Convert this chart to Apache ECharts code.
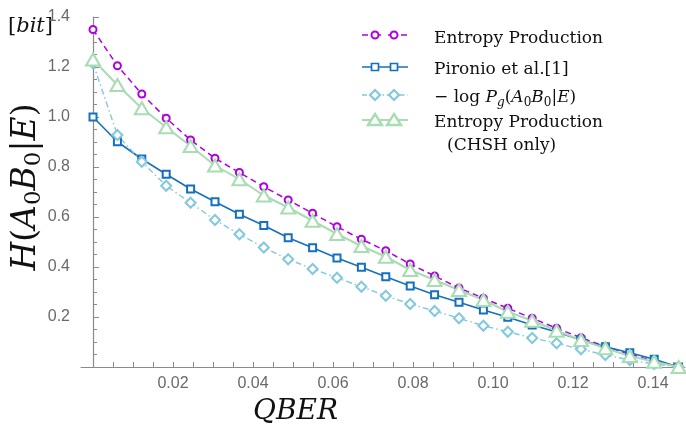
<!DOCTYPE html>
<html><head><meta charset="utf-8">
<script src="https://cdn.jsdelivr.net/npm/echarts@6/dist/echarts.min.js"></script>
<style>html,body{margin:0;padding:0;background:#fff}#c{width:686px;height:426px}</style>
</head><body><div id="c"></div>
<script>
var qber = [0, 0.0061, 0.0122, 0.0183, 0.0244, 0.0305, 0.0366, 0.0427, 0.0488, 0.0549, 0.0610, 0.0671, 0.0732, 0.0793, 0.0854, 0.0915, 0.0976, 0.1037, 0.1098, 0.1159, 0.1220, 0.1281, 0.1342, 0.1403, 0.1464];
var entropyProd = [1.35, 1.205, 1.092, 0.995, 0.908, 0.835, 0.778, 0.721, 0.668, 0.615, 0.561, 0.511, 0.465, 0.412, 0.364, 0.316, 0.275, 0.235, 0.195, 0.155, 0.117, 0.082, 0.051, 0.024, 0.0];
var pironio = [1.0, 0.901, 0.832, 0.771, 0.712, 0.661, 0.611, 0.566, 0.517, 0.477, 0.436, 0.399, 0.361, 0.324, 0.289, 0.259, 0.228, 0.199, 0.168, 0.140, 0.108, 0.081, 0.057, 0.031, 0.0];
var guessing = [1.215, 0.928, 0.821, 0.725, 0.657, 0.588, 0.531, 0.478, 0.431, 0.392, 0.357, 0.321, 0.285, 0.252, 0.224, 0.195, 0.165, 0.141, 0.116, 0.095, 0.071, 0.048, 0.028, 0.012, 0.0];
var chshOnly = [1.23, 1.128, 1.035, 0.959, 0.884, 0.806, 0.751, 0.686, 0.638, 0.585, 0.532, 0.484, 0.441, 0.388, 0.348, 0.308, 0.268, 0.221, 0.185, 0.145, 0.108, 0.075, 0.044, 0.021, 0.0];
var xLabelValues = [0.02, 0.04, 0.06, 0.08, 0.10, 0.12, 0.14];
var xTickValues = [0.005,0.01,0.015,0.02,0.025,0.03,0.035,0.04,0.045,0.05,0.055,0.06,0.065,0.07,0.075,0.08,0.085,0.09,0.095,0.1,0.105,0.11,0.115,0.12,0.125,0.13,0.135,0.14,0.145];
var seriesNames = ['Entropy Production', 'Pironio et al.[1]', '\u2212log Pg(A0B0|E)', 'Entropy Production (CHSH only)'];

function pairs(ys){ return ys.map(function(y,i){ return [qber[i], y]; }); }

var C_PURPLE = '#b000e0', C_BLUE = '#1570bd', C_LBLUE = '#83c8dc', C_GREEN = '#a8dcb2';
var SERIF = '"DejaVu Serif", serif';
var richMath = {
  i: {fontStyle:'italic', fontFamily: SERIF, fontSize:17, verticalAlign:'middle', lineHeight:22},
  n: {fontFamily: SERIF, fontSize:17, verticalAlign:'middle', lineHeight:22},
  s: {fontFamily: SERIF, fontSize:12, verticalAlign:'bottom', lineHeight:14},
  si: {fontFamily: SERIF, fontStyle:'italic', fontSize:12, verticalAlign:'bottom', lineHeight:14}
};
var legendText = {};
legendText[seriesNames[0]] = '{n|Entropy Production}';
legendText[seriesNames[1]] = '{n|Pironio et al.[1]}';
legendText[seriesNames[2]] = '{n|\u2212 log }{i|P}{si|g}{n|(}{i|A}{s|0}{i|B}{s|0}{n||}{i|E}{n|)}';
legendText[seriesNames[3]] = '{n|Entropy Production}';

function mkLegend(name, top){
  return {
    data:[name], left:361, top:top, padding:0, itemWidth:47, itemHeight:11,
    formatter: function(n){ return legendText[n]; },
    itemStyle:{opacity:0}, lineStyle:{opacity:0},
    textStyle:{ padding:[0,0,0,20], fontFamily:SERIF, fontSize:17, color:'#111', rich: richMath },
    selectedMode:false
  };
}

// legend icons (line + two markers)
var L0 = 362, L1 = 408, M1 = 375, M2 = 394;
var rows = [35, 67, 95, 120];
var icons = [];
function iconLine(y, color, width, dash){
  icons.push({type:'line', shape:{x1:L0, y1:y, x2:L1, y2:y}, style:{stroke:color, lineWidth:width, lineDash:dash||null}, z:10});
}
iconLine(rows[0], C_PURPLE, 1.5, [6,7]);
[M1,M2].forEach(function(x){ icons.push({type:'circle', shape:{cx:x, cy:rows[0], r:3.5}, style:{fill:'#fff', stroke:C_PURPLE, lineWidth:2}, z:11}); });
iconLine(rows[1], C_BLUE, 1.6);
[M1,M2].forEach(function(x){ icons.push({type:'rect', shape:{x:x-3.5, y:rows[1]-3.5, width:7, height:7}, style:{fill:'#fff', stroke:C_BLUE, lineWidth:1.7}, z:11}); });
iconLine(rows[2], C_LBLUE, 1.4, [5,3,1.5,3]);
[M1,M2].forEach(function(x){ var y=rows[2]; icons.push({type:'polygon', shape:{points:[[x,y-5],[x+5,y],[x,y+5],[x-5,y]]}, style:{fill:'#fff', stroke:C_LBLUE, lineWidth:2.2}, z:11}); });
iconLine(rows[3], C_GREEN, 2);
[M1,M2].forEach(function(x){ var y=rows[3]; icons.push({type:'polygon', shape:{points:[[x,y-6],[x+7,y+5],[x-7,y+5]]}, style:{fill:'#fff', stroke:C_GREEN, lineWidth:2.4}, z:11}); });

var chart = echarts.init(document.getElementById('c'), null, {renderer:'canvas'});
chart.setOption({
  animation:false,
  grid:{left:81, top:17, width:604, height:350, containLabel:false},
  xAxis:{
    type:'value', min:-0.003, max:0.148,
    axisLine:{show:true, onZero:false, lineStyle:{color:'#8a8a8a', width:1.2}},
    axisTick:{show:true, inside:true, length:5, customValues:xTickValues, lineStyle:{color:'#8a8a8a'}},
    axisLabel:{customValues:xLabelValues, margin:9, fontFamily:'"Liberation Sans", Arial, sans-serif', fontSize:16, color:'#6a6a6a',
      formatter:function(v){ return v.toFixed(2); }},
    splitLine:{show:false}
  },
  yAxis:{
    type:'value', min:0, max:1.4, interval:0.2,
    axisLine:{show:true, onZero:true, lineStyle:{color:'#8a8a8a', width:1.2}},
    axisTick:{show:true, inside:true, length:6, lineStyle:{color:'#8a8a8a'}},
    minorTick:{show:true, splitNumber:4, length:4, lineStyle:{color:'#8a8a8a'}},
    axisLabel:{margin:11, fontFamily:'"Liberation Sans", Arial, sans-serif', fontSize:16, color:'#6a6a6a',
      formatter:function(v){ return v === 0 ? '' : v.toFixed(1); }},
    splitLine:{show:false}
  },
  legend:[ mkLegend(seriesNames[0], 30), mkLegend(seriesNames[1], 61), mkLegend(seriesNames[2], 89), mkLegend(seriesNames[3], 114) ],
  series:[
    {name:seriesNames[0], type:'line', data:pairs(entropyProd), symbol:'emptyCircle', symbolSize:7,
      lineStyle:{color:C_PURPLE, width:1.5, type:[6,4]}, itemStyle:{color:C_PURPLE, borderWidth:2}},
    {name:seriesNames[1], type:'line', data:pairs(pironio), symbol:'emptyRect', symbolSize:7,
      lineStyle:{color:C_BLUE, width:1.6}, itemStyle:{color:C_BLUE, borderWidth:1.7}},
    {name:seriesNames[2], type:'line', data:pairs(guessing), symbol:'emptyDiamond', symbolSize:10,
      lineStyle:{color:C_LBLUE, width:1.4, type:[6,3,1.5,3]}, itemStyle:{color:C_LBLUE, borderWidth:2.4}},
    {name:seriesNames[3], type:'line', data:pairs(chshOnly), symbol:'emptyTriangle', symbolSize:[14,12],
      lineStyle:{color:C_GREEN, width:2}, itemStyle:{color:C_GREEN, borderWidth:2.4}}
  ],
  graphic:[
    {type:'text', left:447, top:137, style:{text:'(CHSH only)', fontFamily:SERIF, fontSize:17, fill:'#111'}},
    {type:'text', x:8, y:27, style:{text:'{n|[}{i|bit}{n|]}', verticalAlign:'middle',
      rich:{n:{fontFamily:SERIF, fontSize:21, fill:'#111'}, i:{fontFamily:SERIF, fontStyle:'italic', fontSize:21, fill:'#111'}}}},
    {type:'text', x:253, y:412, style:{text:'QBER', fontFamily:SERIF, fontStyle:'italic', fontSize:28, fill:'#111', verticalAlign:'middle'}},
    {type:'text', x:26, y:187, rotation:Math.PI/2, style:{
      text:'{i|H}{n|(}{i|A}{s|0}{i|B}{s|0}{n||}{i|E}{n|)}', align:'center', verticalAlign:'middle',
      rich:{
        i:{fontFamily:SERIF, fontStyle:'italic', fontSize:33, fill:'#111', verticalAlign:'middle', lineHeight:40},
        n:{fontFamily:SERIF, fontSize:33, fill:'#111', verticalAlign:'middle', lineHeight:40},
        s:{fontFamily:SERIF, fontSize:23, fill:'#111', verticalAlign:'bottom', lineHeight:28}
      }}}
  ].concat(icons)
});
</script></body></html>
